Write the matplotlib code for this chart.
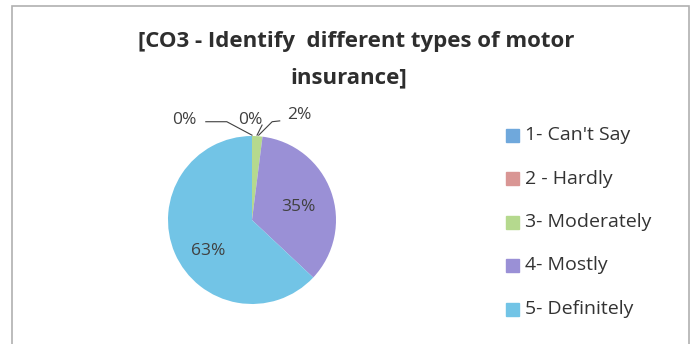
import numpy as np
import matplotlib.pyplot as plt
from matplotlib.patches import Rectangle

categories = ["1- Can't Say", "2 - Hardly", "3- Moderately", "4- Mostly", "5- Definitely"]
shares = [0, 0, 2, 35, 63]
colors = ["#6fa8dc", "#d99694", "#b5d98e", "#9a90d6", "#72c4e6"]

plt.rcParams['font.family'] = ['Open Sans', 'DejaVu Sans']

W, H = 697, 344
fig = plt.figure(figsize=(W / 100, H / 100), dpi=100)
fig.patch.set_facecolor('white')

# chart frame (bottom edge runs off the picture)
fig.patches.append(Rectangle((12 / W, -10 / H), 677 / W, (H - 6 + 10) / H,
                             transform=fig.transFigure, fill=False,
                             edgecolor='#b0b0b0', linewidth=1.2))

fig.text(356 / W, 1 - 42 / H, "[CO3 - Identify  different types of motor",
         ha='center', va='center', fontsize=16, fontweight='bold', color='#2e2e2e')
fig.text(349 / W, 1 - 78 / H, "insurance]",
         ha='center', va='center', fontsize=16, fontweight='bold', color='#2e2e2e')

# pie centre (252, 220) px, radius 84 px
cx, cy, r = 252, 220, 84
ax = fig.add_axes([(cx - r) / W, (H - cy - r) / H, 2 * r / W, 2 * r / H])
wedges, _ = ax.pie(shares, colors=colors, startangle=90, counterclock=False,
                   radius=1, wedgeprops=dict(linewidth=0))
ax.set_xlim(-1, 1)
ax.set_ylim(-1, 1)
ax.set_aspect('equal')
ax.axis('off')

lab_kw = dict(fontsize=12.5, color='#404040', ha='center', va='center', clip_on=False)
ax.text(-0.81, 1.19, "0%", **lab_kw)
ax.text(-0.02, 1.19, "0%", **lab_kw)
ax.text(0.56, 1.25, "2%", **lab_kw)
ax.plot([-0.55, -0.3, 0.0], [1.17, 1.17, 1.01], color='#404040', lw=0.8, clip_on=False)
ax.plot([0.12, 0.06], [1.13, 1.01], color='#404040', lw=0.8, clip_on=False)
ax.plot([0.33, 0.24, 0.08], [1.18, 1.17, 1.01], color='#404040', lw=0.8, clip_on=False)
ax.text(0.55, 0.15, "35%", **lab_kw)
ax.text(-0.52, -0.37, "63%", **lab_kw)

# legend
for i, (name, c) in enumerate(zip(categories, colors)):
    y = 1 - (135 + 43.5 * i) / H
    fig.patches.append(Rectangle((506 / W, y - 6.5 / H), 13 / W, 13 / H,
                                 transform=fig.transFigure, color=c))
    fig.text(525 / W, y, name, ha='left', va='center', fontsize=14, color='#333333')

fig.savefig('out.png', dpi=100)
